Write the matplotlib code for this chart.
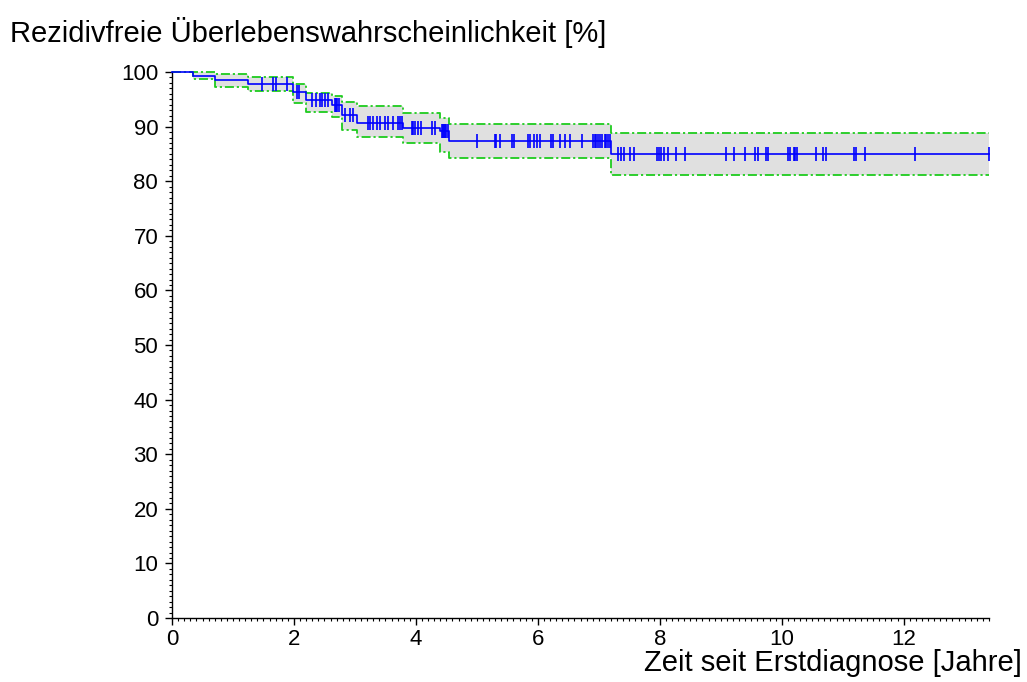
import numpy as np
import matplotlib
matplotlib.use("Agg")
import matplotlib.pyplot as plt
from matplotlib.ticker import MultipleLocator

plt.rcParams['font.family'] = ['Liberation Sans', 'DejaVu Sans']

# Kaplan-Meier step data (time in years, survival in %)
event_times = [0.00, 0.35, 0.70, 1.25, 1.99, 2.19, 2.62, 2.78, 3.04, 3.79, 4.40, 4.54, 7.20]
survival    = [100.0, 99.3, 98.6, 97.8, 96.3, 94.8, 93.9, 92.1, 90.7, 89.7, 89.2, 87.3, 84.9]
ci_upper    = [100.0, 100.0, 99.6, 99.1, 97.8, 96.2, 95.6, 94.5, 93.7, 92.5, 91.6, 90.4, 88.8]
ci_lower    = [100.0, 98.7, 97.3, 96.6, 94.3, 92.6, 91.8, 89.4, 88.1, 87.0, 85.4, 84.2, 81.1]
t_end = 13.40

censor_times = [1.47, 1.66, 1.70, 1.88, 2.05, 2.09,
                2.29, 2.36, 2.42, 2.46, 2.51, 2.56,
                2.67, 2.69, 2.71, 2.74,
                2.84, 2.92, 2.97,
                3.22, 3.25, 3.30, 3.37, 3.41, 3.49, 3.55, 3.62, 3.71, 3.74, 3.77,
                3.93, 3.96, 3.99, 4.04, 4.09, 4.26, 4.32,
                4.42, 4.44, 4.46, 4.48, 4.50, 4.52,
                5.01, 5.29, 5.32, 5.38, 5.57, 5.61, 5.84, 5.87, 5.93, 5.98, 6.03,
                6.21, 6.25, 6.36, 6.44, 6.52, 6.72, 6.91, 6.93, 6.96, 6.99, 7.02,
                7.05, 7.10, 7.12, 7.15, 7.18,
                7.32, 7.37, 7.41, 7.51, 7.58, 7.96, 7.99, 8.02, 8.07, 8.13, 8.27,
                8.41, 9.09, 9.21, 9.40, 9.57, 9.61, 9.75, 9.78, 10.10, 10.13, 10.20,
                10.22, 10.25, 10.56, 10.68, 10.72, 11.18, 11.22, 11.36, 12.19, 13.40]

x_ticks = [0, 2, 4, 6, 8, 10, 12]
y_ticks = [0, 10, 20, 30, 40, 50, 60, 70, 80, 90, 100]
y_title = "Rezidivfreie Überlebenswahrscheinlichkeit [%]"
x_title = "Zeit seit Erstdiagnose [Jahre]"

fig = plt.figure(figsize=(10.27, 6.82), dpi=100)
ax = fig.add_axes([0.1675, 0.0938, 0.7955, 0.8006])

t = np.array(event_times + [t_end])
s = np.array(survival + [survival[-1]])
up = np.array(ci_upper + [ci_upper[-1]])
lo = np.array(ci_lower + [ci_lower[-1]])

ax.fill_between(t, lo, up, step='post', color='#e0e0e0', linewidth=0, zorder=1)
green = '#1ecc1e'
dash = (0, (5, 1.6, 1.2, 1.6))
ax.plot(t, up, drawstyle='steps-post', color=green, lw=1.3, linestyle=dash, zorder=2, clip_on=False)
ax.plot(t, lo, drawstyle='steps-post', color=green, lw=1.3, linestyle=dash, zorder=2, clip_on=False)
ax.plot(t, s, drawstyle='steps-post', color='#0000ff', lw=1.2, zorder=3, clip_on=False)

ct = np.array(censor_times)
idx = np.searchsorted(np.array(event_times), ct, side='right') - 1
cs = np.array(survival)[idx]
ax.plot(ct, cs, linestyle='none', marker='|', markersize=10, markeredgewidth=1.2,
        color='#0000ff', zorder=4, clip_on=False)

ax.set_xlim(0, t_end)
ax.set_ylim(0, 100)
ax.spines['top'].set_visible(False)
ax.spines['right'].set_visible(False)
for sp in ('left', 'bottom'):
    ax.spines[sp].set_linewidth(1.0)

ax.set_xticks(x_ticks)
ax.set_yticks(y_ticks)
ax.xaxis.set_minor_locator(MultipleLocator(0.1))
ax.yaxis.set_minor_locator(MultipleLocator(1))
ax.tick_params(which='major', direction='out', length=5, width=1.0, labelsize=16)
ax.tick_params(axis='y', which='major', pad=5)
ax.tick_params(axis='x', which='major', pad=3)
ax.tick_params(which='minor', direction='out', length=2.2, width=0.8)

fig.text(10 / 1027, 1 - 33 / 682, y_title, fontsize=21, ha='left', va='center')
fig.text(1022 / 1027, 1 - 663 / 682, x_title, fontsize=21, ha='right', va='center')

fig.savefig("out.png", dpi=100)
